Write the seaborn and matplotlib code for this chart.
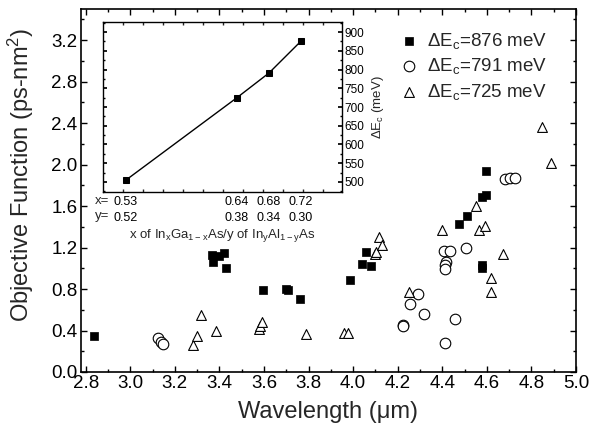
import numpy as np
import pandas as pd
import matplotlib
matplotlib.use("Agg")
import matplotlib.pyplot as plt
import seaborn as sns
from matplotlib.ticker import MultipleLocator, FixedLocator

# ---------------- data ----------------
sq_x = [2.837, 3.366, 3.373, 3.40, 3.421, 3.428, 3.596, 3.700, 3.710, 3.760,
        3.985, 4.042, 4.057, 4.079, 4.474, 4.510, 4.576, 4.598, 4.598, 4.578, 4.578]
sq_y = [0.348, 1.128, 1.064, 1.120, 1.146, 0.999, 0.793, 0.800, 0.795, 0.700,
        0.883, 1.044, 1.157, 1.018, 1.431, 1.505, 1.689, 1.705, 1.940, 1.028, 1.006]

ci_x = [3.126, 3.140, 3.146, 4.224, 4.224, 4.254, 4.289, 4.318, 4.411, 4.408,
        4.434, 4.416, 4.411, 4.411, 4.456, 4.508, 4.683, 4.705, 4.725]
ci_y = [0.329, 0.287, 0.270, 0.457, 0.440, 0.657, 0.754, 0.561, 0.283, 1.166,
        1.163, 1.057, 1.028, 0.992, 0.509, 1.199, 1.860, 1.869, 1.875]

tr_x = [3.281, 3.301, 3.317, 3.384, 3.578, 3.584, 3.589, 3.788, 3.958, 3.978,
        4.097, 4.102, 4.117, 4.128, 4.250, 4.399, 4.550, 4.567, 4.590, 4.672,
        4.618, 4.618, 4.886, 4.846]
tr_y = [0.256, 0.350, 0.553, 0.395, 0.410, 0.440, 0.480, 0.367, 0.375, 0.375,
        1.141, 1.157, 1.302, 1.221, 0.770, 1.373, 1.599, 1.367, 1.412, 1.134,
        0.905, 0.770, 2.017, 2.366]

series_labels = ["ΔE$_\\mathregular{c}$=876 meV",
                 "ΔE$_\\mathregular{c}$=791 meV",
                 "ΔE$_\\mathregular{c}$=725 meV"]

# inset data
inset_x = ["0.53", "0.64", "0.68", "0.72"]      # x of InGaAs
inset_yc = ["0.52", "0.38", "0.34", "0.30"]     # y of InAlAs
inset_pos = [0.53, 0.6505, 0.6853, 0.72]        # position along inset axis
inset_dEc = [505, 725, 791, 876]                # meV

x_ticks = [2.8, 3.0, 3.2, 3.4, 3.6, 3.8, 4.0, 4.2, 4.4, 4.6, 4.8, 5.0]
y_ticks = [0.0, 0.4, 0.8, 1.2, 1.6, 2.0, 2.4, 2.8, 3.2]

# ---------------- style ----------------
sns.set_theme(style="ticks")
plt.rcParams["font.family"] = ["Liberation Sans", "DejaVu Sans"]
plt.rcParams["mathtext.default"] = "regular"
plt.rcParams["axes.linewidth"] = 1.2

fig = plt.figure(figsize=(6.04, 4.33), dpi=100)
ax = fig.add_axes([81/604, 1-372/433, (576-81)/604, (372-9)/433])

df_sq = pd.DataFrame({"x": sq_x, "y": sq_y})
df_ci = pd.DataFrame({"x": ci_x, "y": ci_y})
df_tr = pd.DataFrame({"x": tr_x, "y": tr_y})

sns.scatterplot(data=df_sq, x="x", y="y", ax=ax, marker="s", s=30,
                color="black", edgecolor="black", linewidth=0.5, label=series_labels[0], zorder=3)
sns.scatterplot(data=df_ci, x="x", y="y", ax=ax, marker="o", s=58,
                facecolor="white", edgecolor="black", linewidth=0.8, label=series_labels[1], zorder=3)
sns.scatterplot(data=df_tr, x="x", y="y", ax=ax, marker="^", s=50,
                facecolor="white", edgecolor="black", linewidth=0.8, label=series_labels[2], zorder=3)

ax.set_xlim(2.779, 5.0)
ax.set_ylim(0.0, 3.5)
ax.set_xticks(x_ticks)
ax.set_xticklabels([f"{v:.1f}" for v in x_ticks])
ax.set_yticks(y_ticks)
ax.set_yticklabels([f"{v:.1f}" for v in y_ticks])
ax.xaxis.set_minor_locator(MultipleLocator(0.1))
ax.yaxis.set_minor_locator(MultipleLocator(0.2))
ax.tick_params(which="both", direction="in", top=True, right=True, width=1.0,
               labelsize=13.5, colors="black")
ax.tick_params(which="major", length=4, pad=2.5)
ax.tick_params(which="minor", length=2.5)
for sp in ax.spines.values():
    sp.set_color("black")
    sp.set_visible(True)
ax.set_xlabel("Wavelength (μm)", fontsize=17, labelpad=6)
ax.set_ylabel("Objective Function (ps-nm$^2$)", fontsize=17)
ax.yaxis.set_label_coords(-0.09, 0.543)

leg = ax.legend(loc="upper right", bbox_to_anchor=(0.9566, 0.961), frameon=False,
                fontsize=13.5, handletextpad=0.36, labelspacing=0.3,
                borderaxespad=0.0, borderpad=0.4, markerscale=1.0, handlelength=1.2)

# ---------------- inset ----------------
axi = fig.add_axes([103/604, 1-192/433, (342-103)/604, (192-22)/433])
df_in = pd.DataFrame({"pos": inset_pos, "dEc": inset_dEc})
sns.lineplot(data=df_in, x="pos", y="dEc", ax=axi, color="black", linewidth=1.0,
             marker="s", markersize=5, markeredgecolor="black", markerfacecolor="black")
axi.set_xlim(0.505, 0.7645)
axi.set_ylim(473, 927)
axi.yaxis.tick_right()
axi.yaxis.set_label_position("right")
axi.set_yticks(np.arange(500, 901, 50))
axi.yaxis.set_minor_locator(MultipleLocator(25))
axi.tick_params(axis="y", which="both", direction="in", left=True, right=True,
                labelsize=8.5, pad=1.5, colors="black")
axi.tick_params(axis="y", which="major", length=3)
axi.tick_params(axis="y", which="minor", length=1.5)
axi.set_xticks(inset_pos)
axi.set_xticklabels([f"{a}\n{b}" for a, b in zip(inset_x, inset_yc)], linespacing=1.4)
axi.xaxis.set_minor_locator(FixedLocator(np.arange(0.5264, 0.76, 0.0217)))
axi.tick_params(axis="x", which="major", length=0, labelsize=9, pad=3, colors="black")
axi.tick_params(axis="x", which="minor", direction="in", length=2, top=True, bottom=True)
for sp in axi.spines.values():
    sp.set_color("black")
    sp.set_linewidth(1.0)
axi.set_xlabel("x of In$_x$Ga$_{1-x}$As/y of In$_y$Al$_{1-y}$As", fontsize=9.5, labelpad=2)
axi.set_ylabel("ΔE$_c$ (meV)", fontsize=9.5, labelpad=4)
axi.text(-0.033, -0.0176, "x=\ny=", transform=axi.transAxes, fontsize=9.5,
         ha="left", va="top", linespacing=1.33)

fig.savefig("out.png", dpi=100)
